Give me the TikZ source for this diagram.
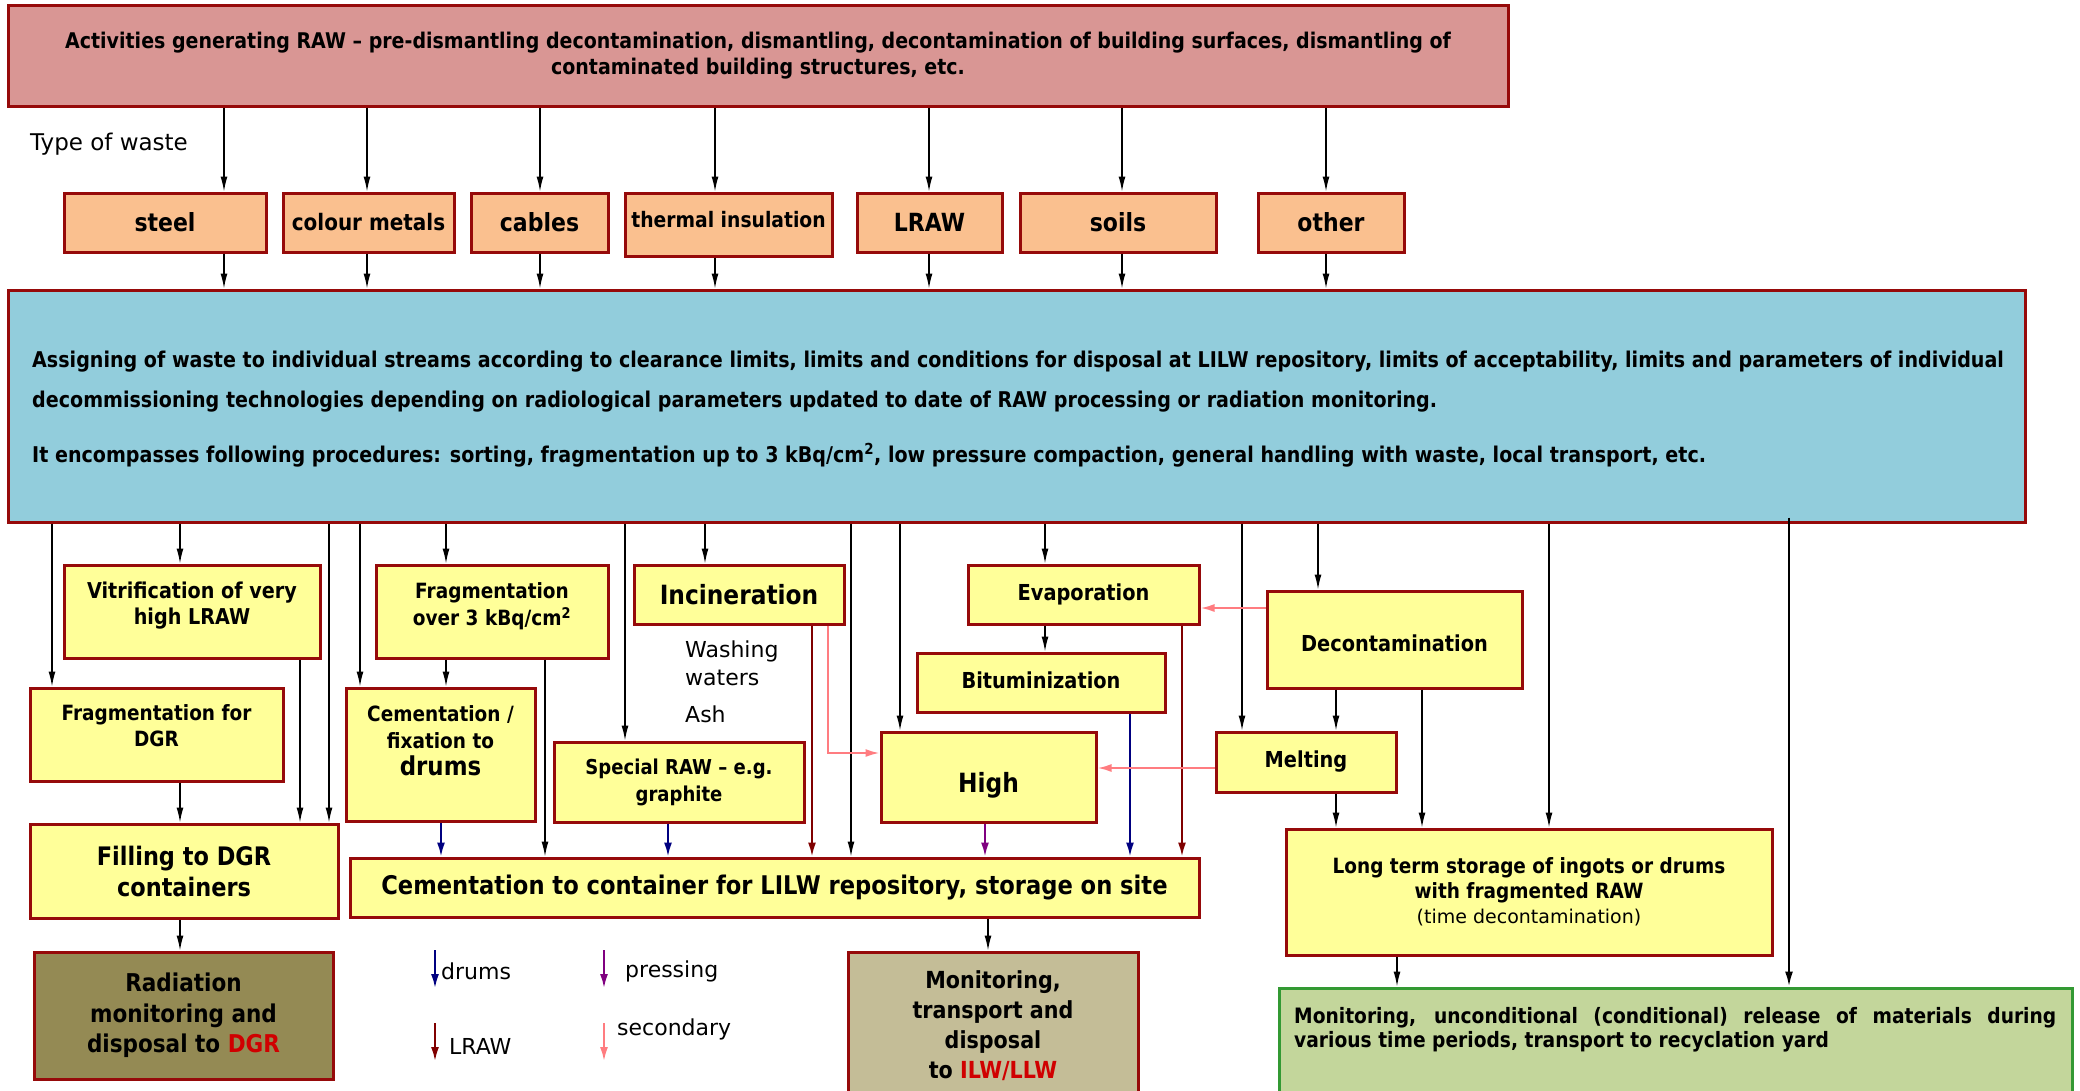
\documentclass[tikz,border=0pt]{standalone}
\usepackage{fontspec}
\setmainfont{DejaVu Sans}[BoldFeatures={FakeStretch=0.88}]
\usetikzlibrary{arrows.meta}

\definecolor{frame}{HTML}{960A0A}
\definecolor{topfill}{HTML}{D99694}
\definecolor{typefill}{HTML}{FAC08F}
\definecolor{bluefill}{HTML}{92CDDC}
\definecolor{yellowfill}{HTML}{FFFF99}
\definecolor{radfill}{HTML}{948A54}
\definecolor{monfill}{HTML}{C4BD97}
\definecolor{greenfill}{HTML}{C3D69B}
\definecolor{greenframe}{HTML}{339933}
\definecolor{drumsc}{HTML}{000080}
\definecolor{lrawc}{HTML}{800000}
\definecolor{pressc}{HTML}{800080}
\definecolor{secc}{HTML}{FF7C80}
\definecolor{alertred}{HTML}{D00000}

% vertical connector at a given x from the bottom of one node to the top of another
\newcommand\vlink[4][arr]{\draw[#1] (#2.south -| #4,0) -- (#3.north -| #4,0);}

\begin{document}
\begin{tikzpicture}[x=1pt,y=-1pt,
  box/.style={draw=frame,line width=3pt,inner sep=0pt,align=center},
  ybox/.style={box,fill=yellowfill},
  tbox/.style={box,fill=typefill},
  fs/.style 2 args={font=\bfseries\fontsize{#1}{#2}\selectfont},
  rs/.style 2 args={font=\fontsize{#1}{#2}\selectfont},
  wh/.style 2 args={minimum width=#1pt,minimum height=#2pt},
  arr/.style={line width=1.4pt,-{Latex[length=15pt,width=7pt]}},
  carr/.style={line width=2pt,-{Latex[length=14pt,width=8pt]}},
  plain/.style={inner sep=0pt,align=left}
]
\useasboundingbox (0,0) rectangle (2080,1090);
\clip (0,0) rectangle (2080,1090);

% source activities
\node[box,fill=topfill,wh={1500}{101},fs={21.6pt}{25.5pt}] (top) at (758,55.5)
  {Activities generating RAW – pre-dismantling decontamination, dismantling, decontamination of building surfaces, dismantling of\\contaminated building structures, etc.};

\node[plain,anchor=west,rs={23pt}{27pt}] (typelbl) at (30,144) {Type of waste};

% waste types
\node[tbox,wh={202}{59},fs={25pt}{30pt}] (steel) at (165,222.5) {steel};
\node[tbox,wh={171}{59},fs={22.7pt}{26pt}] (colour) at (368.5,222.5) {colour metals};
\node[tbox,wh={137}{59},fs={25pt}{30pt}] (cables) at (539.5,222.5) {cables};
\node[tbox,wh={207}{63},fs={21.3pt}{24pt}] (thermal) at (728.5,224.5) {\raisebox{11pt}{thermal insulation}};
\node[tbox,wh={145}{59},fs={25pt}{30pt}] (lraw) at (929.5,222.5) {LRAW};
\node[tbox,wh={196}{59},fs={25pt}{30pt}] (soils) at (1118,222.5) {soils};
\node[tbox,wh={146}{59},fs={25pt}{30pt}] (other) at (1331,222.5) {other};

% stream assignment
\node[box,fill=bluefill,wh={2017}{232}] (assign) at (1016.5,406) {};
\node[plain,anchor=west,fs={21.7pt}{40pt}] (assigntxt) at (32,409)
  {Assigning of waste to individual streams according to clearance limits, limits and conditions for disposal at LILW repository, limits of acceptability, limits and parameters of individual\\
   decommissioning technologies depending on radiological parameters updated to date of RAW processing or radiation monitoring.\\[15pt]
   It encompasses following procedures: sorting, fragmentation up to 3 kBq/cm\textsuperscript{2}, low pressure compaction, general handling with waste, local transport, etc.};

% processing technologies
\node[ybox,wh={256}{93}] (vit) at (192,611.5) {};
\node[plain,align=center,fs={21.8pt}{26pt}] (vittxt) at (192,606) {Vitrification of very\\high LRAW};
\node[ybox,wh={253}{93}] (fragdgr) at (156.5,734.5) {};
\node[plain,align=center,fs={21pt}{26pt}] (fragdgrtxt) at (156.5,726) {Fragmentation for\\DGR};
\node[ybox,wh={308}{94},fs={25.5pt}{31pt}] (fill) at (184,871) {Filling to DGR\\containers};
\node[ybox,wh={232}{93}] (fragover) at (492,611.5) {};
\node[plain,align=center,fs={21pt}{27pt}] (fragovertxt) at (492,606.5) {Fragmentation\\over 3 kBq/cm\textsuperscript{2}};
\node[ybox,wh={189}{133}] (cem) at (440.5,754.5) {};
\node[plain,align=center,fs={21pt}{27pt}] (cemtxt) at (440.5,741) {Cementation /\\fixation to\\{\fontsize{26pt}{28pt}\selectfont drums}};
\node[ybox,wh={250}{80},fs={20.5pt}{27pt}] (special) at (679,782) {Special RAW – e.g.\\graphite};
\node[ybox,wh={849}{59},fs={25.7pt}{30pt}] (container) at (774.5,887.5) {Cementation to container for LILW repository, storage on site};
\node[ybox,wh={210}{59},fs={26.5pt}{30pt}] (incin) at (739,594.5) {Incineration};
\node[ybox,wh={215}{90},fs={26.5pt}{32pt}] (high) at (988.5,777) {\raisebox{-15pt}[0pt][0pt]{High}};
\node[ybox,wh={231}{59},fs={22pt}{26pt}] (evap) at (1083.5,594.5) {\raisebox{3pt}{Evaporation}};
\node[ybox,wh={248}{59},fs={22pt}{26pt}] (bitum) at (1041,682.5) {\raisebox{5pt}{Bituminization}};
\node[ybox,wh={255}{97},fs={22pt}{26pt}] (decont) at (1394.5,639.5) {\raisebox{-12pt}[0pt][0pt]{Decontamination}};
\node[ybox,wh={180}{60},fs={22pt}{26pt}] (melt) at (1306,762) {\raisebox{3pt}{Melting}};
\node[ybox,wh={486}{126},fs={21pt}{25pt}] (long) at (1529,892)
  {Long term storage of ingots or drums\\with fragmented RAW\\{\mdseries\fontsize{19pt}{27pt}\selectfont (time decontamination)}};

\node[plain,rs={22pt}{28pt},anchor=north west] (washing) at (685,641) {Washing\\waters};
\node[plain,rs={22pt}{28pt},anchor=west] (ash) at (685,714) {Ash};

% final destinations
\node[box,fill=radfill,wh={299}{127},fs={24.5pt}{30.5pt}] (rad) at (183.5,1015.5)
  {Radiation\\monitoring and\\disposal to \textcolor{alertred}{DGR}};
\node[box,fill=monfill,wh={290}{148},fs={23.5pt}{30pt}] (mon) at (993,1026)
  {Monitoring,\\transport and\\disposal\\to \textcolor{alertred}{ILW/LLW}};
\node[box,draw=greenframe,fill=greenfill,wh={793}{132}] (release) at (1675.5,1054) {};
\node[plain,anchor=north west,text width=762pt,align=justify,fs={21.2pt}{24.5pt}] (releasetxt) at (1294,1007)
  {Monitoring, unconditional (conditional) release of materials during\linebreak various time periods, transport to recyclation yard};

% activities -> waste types -> assignment
\foreach \n/\x in {steel/224,colour/367,cables/540,thermal/715,lraw/929,soils/1122,other/1326}{
  \vlink{top}{\n}{\x}
  \vlink{\n}{assign}{\x}
}

% assignment -> technologies
\vlink{assign}{fragdgr}{52}
\vlink{assign}{vit}{180}
\vlink{assign}{fill}{329}
\vlink{assign}{cem}{360}
\vlink{assign}{fragover}{446}
\vlink{assign}{special}{625}
\vlink{assign}{incin}{705}
\vlink{assign}{container}{851}
\vlink{assign}{high}{900}
\vlink{assign}{evap}{1045}
\vlink{assign}{melt}{1242}
\vlink{assign}{decont}{1318}
\vlink{assign}{long}{1549}
\draw[line width=2.2pt,-{Latex[length=15pt,width=8pt]}] ([yshift=6pt]assign.south -| 1789,0) -- (release.north -| 1789,0);

% between technologies
\vlink{fragdgr}{fill}{180}
\vlink{vit}{fill}{300}
\vlink{fragover}{cem}{446}
\vlink{fragover}{container}{545}
\vlink[carr,drumsc]{cem}{container}{441}
\vlink[carr,drumsc]{special}{container}{668}
\vlink[carr,lrawc]{incin}{container}{812}
\draw[carr,secc] (incin.south -| 828,0) |- (high.west |- 0,753);
\vlink[carr,pressc]{high}{container}{985}
\vlink{evap}{bitum}{1045}
\vlink[carr,drumsc]{bitum}{container}{1130}
\vlink[carr,lrawc]{evap}{container}{1182}
\draw[carr,secc] (decont.west |- 0,608) -- (evap.east |- 0,608);
\draw[carr,secc] (melt.west |- 0,768) -- (high.east |- 0,768);
\vlink{decont}{melt}{1336}
\vlink{decont}{long}{1422}
\vlink{melt}{long}{1336}
\vlink{long}{release}{1397}
\vlink{fill}{rad}{180}
\vlink{container}{mon}{988}

% legend
\coordinate (lgA1) at (435,950); \coordinate (lgA2) at (435,988);
\coordinate (lgB1) at (435,1023); \coordinate (lgB2) at (435,1061);
\coordinate (lgC1) at (604,950); \coordinate (lgC2) at (604,988);
\coordinate (lgD1) at (604,1023); \coordinate (lgD2) at (604,1061);
\draw[carr,drumsc] (lgA1) -- (lgA2);
\draw[carr,lrawc] (lgB1) -- (lgB2);
\draw[carr,pressc] (lgC1) -- (lgC2);
\draw[carr,secc] (lgD1) -- (lgD2);
\node[plain,anchor=west,rs={22pt}{26pt}] (lgdrums) at (441,971) {drums};
\node[plain,anchor=west,rs={22pt}{26pt}] (lglraw) at (449,1046) {LRAW};
\node[plain,anchor=west,rs={22pt}{26pt}] (lgpress) at (625,971) {pressing};
\node[plain,anchor=west,rs={22pt}{26pt}] (lgsec) at (617,1029) {secondary};
\end{tikzpicture}
\end{document}
